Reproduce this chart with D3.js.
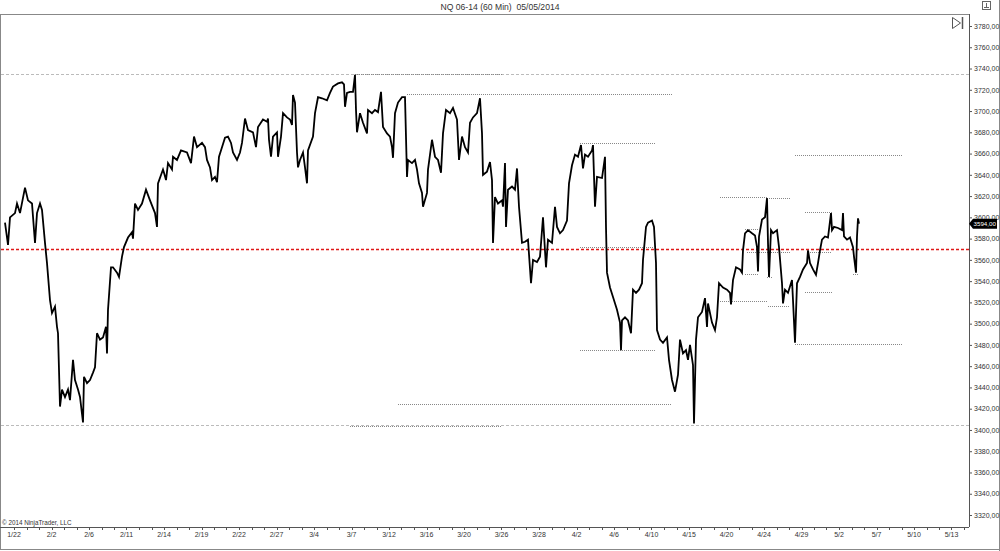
<!DOCTYPE html>
<html><head><meta charset="utf-8">
<script src="https://cdn.jsdelivr.net/npm/d3@7"></script>
<style>
html,body{margin:0;padding:0;background:#fff;}
svg{display:block;font-family:"Liberation Sans",Arial,sans-serif;}
</style></head>
<body>
<svg id="c" width="1000" height="551"></svg>
<script>
const title = "NQ 06-14 (60 Min)  05/05/2014";
const copyright = "© 2014 NinjaTrader, LLC";
const dateLabels = ["1/22","2/2","2/6","2/11","2/14","2/19","2/22","2/27","3/4","3/7","3/12","3/16","3/20","3/26","3/28","4/2","4/6","4/10","4/15","4/20","4/24","4/29","5/2","5/7","5/10","5/13"];
const priceTicks = [3320,3340,3360,3380,3400,3420,3440,3460,3480,3500,3520,3540,3560,3580,3600,3620,3640,3660,3680,3700,3720,3740,3760,3780];
const lastPrice = 3594;
const redLevel = 3570;
const wideLevels = [3735, 3405];
// [bar index, price]
const priceSeries = [
[0,3595],[6,3574],[10,3600],[20,3604],[24,3613],[30,3604],[40,3628],[46,3616],[54,3613],[60,3576],[64,3604],[70,3613],[74,3607],[80,3576],[84,3557],[90,3522],[94,3510],[100,3516],[104,3497],[106,3491],[110,3422],[114,3438],[120,3431],[126,3438],[130,3428],[136,3466],[140,3447],[146,3438],[150,3431],[156,3407],[158,3450],[164,3444],[170,3447],[176,3454],[180,3459],[184,3491],[190,3485],[196,3487],[202,3497],[204,3472],[206,3513],[212,3553],[216,3553],[224,3548],[228,3544],[234,3563],[238,3572],[246,3581],[254,3586],[256,3580],[260,3613],[266,3607],[274,3613],[282,3626],[290,3616],[300,3604],[304,3591],[306,3632],[316,3645],[318,3642],[322,3635],[326,3651],[334,3645],[336,3657],[344,3654],[352,3663],[364,3661],[372,3651],[378,3676],[384,3666],[394,3670],[400,3666],[404,3654],[410,3647],[414,3635],[420,3638],[424,3633],[428,3657],[434,3666],[440,3675],[446,3676],[452,3670],[456,3661],[464,3654],[470,3661],[474,3670],[480,3693],[486,3682],[496,3680],[502,3666],[506,3685],[516,3692],[524,3690],[526,3693],[528,3673],[532,3657],[536,3676],[544,3680],[546,3657],[552,3676],[556,3698],[564,3694],[570,3692],[574,3687],[576,3715],[580,3708],[584,3661],[586,3647],[590,3654],[596,3661],[600,3647],[604,3632],[606,3663],[616,3676],[620,3698],[626,3713],[634,3712],[644,3710],[650,3717],[656,3723],[666,3726],[674,3727],[678,3725],[680,3704],[684,3717],[690,3718],[696,3718],[700,3734],[702,3701],[704,3680],[710,3698],[716,3689],[724,3679],[726,3701],[734,3698],[740,3701],[746,3699],[752,3718],[756,3685],[764,3679],[770,3676],[774,3666],[776,3656],[780,3698],[786,3708],[794,3713],[800,3713],[804,3638],[806,3654],[814,3651],[820,3654],[824,3645],[828,3632],[834,3623],[836,3610],[844,3623],[846,3645],[854,3673],[860,3657],[866,3654],[872,3642],[876,3679],[882,3701],[890,3698],[896,3703],[904,3692],[908,3654],[914,3676],[920,3666],[926,3661],[930,3689],[936,3694],[944,3698],[950,3712],[954,3679],[956,3640],[964,3643],[970,3652],[974,3635],[976,3576],[980,3619],[986,3613],[994,3616],[996,3610],[1000,3651],[1002,3591],[1006,3626],[1014,3629],[1020,3626],[1024,3646],[1028,3610],[1034,3576],[1040,3577],[1046,3579],[1052,3538],[1056,3560],[1064,3558],[1070,3563],[1076,3600],[1082,3553],[1086,3579],[1094,3576],[1100,3610],[1104,3591],[1110,3585],[1116,3588],[1124,3597],[1128,3632],[1134,3649],[1140,3659],[1146,3657],[1152,3668],[1156,3646],[1160,3659],[1166,3657],[1174,3663],[1176,3668],[1180,3610],[1184,3638],[1194,3637],[1200,3657],[1202,3591],[1204,3548],[1210,3534],[1216,3525],[1224,3513],[1230,3501],[1232,3475],[1234,3503],[1240,3506],[1246,3503],[1252,3491],[1256,3532],[1262,3529],[1268,3532],[1274,3538],[1276,3560],[1282,3591],[1286,3595],[1294,3597],[1298,3591],[1302,3557],[1304,3494],[1310,3485],[1316,3482],[1324,3487],[1328,3466],[1334,3447],[1340,3436],[1346,3452],[1350,3485],[1356,3472],[1362,3475],[1366,3466],[1370,3480],[1376,3461],[1378,3406],[1382,3485],[1386,3506],[1394,3511],[1400,3524],[1404,3497],[1406,3519],[1414,3501],[1420,3494],[1424,3506],[1428,3538],[1436,3534],[1444,3532],[1450,3529],[1452,3518],[1456,3541],[1462,3553],[1470,3551],[1474,3548],[1476,3569],[1480,3585],[1486,3588],[1494,3585],[1500,3583],[1504,3572],[1506,3549],[1508,3582],[1514,3598],[1520,3600],[1524,3618],[1526,3576],[1528,3544],[1532,3588],[1536,3585],[1544,3588],[1548,3572],[1554,3538],[1556,3519],[1560,3532],[1566,3529],[1574,3541],[1576,3522],[1580,3482],[1584,3538],[1590,3544],[1596,3551],[1604,3557],[1606,3569],[1610,3557],[1616,3551],[1622,3546],[1626,3557],[1630,3569],[1634,3579],[1640,3582],[1646,3581],[1652,3604],[1654,3588],[1658,3591],[1666,3590],[1674,3588],[1676,3604],[1678,3582],[1684,3579],[1690,3581],[1696,3572],[1698,3563],[1702,3548],[1704,3582],[1706,3599],[1708,3594]
];
const levelStart = [700,804,1150,1150,1150,1580,1430,1524,1600,1480,1484,1606,1480,1524,1696,1430,1526,1600,1580,786,690];
const levelEnd   = [994,1334,1302,1296,1300,1796,1524,1570,1654,1506,1570,1654,1506,1536,1706,1524,1570,1654,1796,1334,994];
const levelPrice = [3735,3716,3670,3572,3475,3659,3619,3618,3605,3589,3567,3567,3547,3544,3547,3521,3517,3530,3481,3424,3404];

const svg = d3.select("#c");
const plotL = 0, plotR = 969, plotT = 14, plotB = 527;
const x = d3.scaleLinear().domain([0, 1928]).range([5, plotR]);
const y = d3.scaleLinear().domain([3320, 3780]).range([515, 26]);

// frame
svg.append("line").attr("x1",0).attr("x2",plotR).attr("y1",plotT+0.5).attr("y2",plotT+0.5).attr("stroke","#888");
svg.append("line").attr("x1",0.5).attr("x2",0.5).attr("y1",plotT).attr("y2",550).attr("stroke","#888");
svg.append("line").attr("x1",0).attr("x2",1000).attr("y1",549.5).attr("y2",549.5).attr("stroke","#888");
svg.append("line").attr("x1",999.5).attr("x2",999.5).attr("y1",0).attr("y2",551).attr("stroke","#888");

// title
svg.append("text").attr("x",500).attr("y",10).attr("text-anchor","middle").attr("font-size","8.6px").attr("fill","#333").attr("xml:space","preserve").text(title);

// wide dashed levels
svg.selectAll(".wide").data(wideLevels).enter().append("line")
  .attr("x1",1).attr("x2",plotR).attr("y1",d=>Math.round(y(d))+0.5).attr("y2",d=>Math.round(y(d))+0.5)
  .attr("stroke","#bbb").attr("stroke-dasharray","3,2");

// short dotted levels
svg.selectAll(".lvl").data(levelPrice).enter().append("line")
  .attr("x1",(d,i)=>x(levelStart[i])).attr("x2",(d,i)=>x(levelEnd[i]))
  .attr("y1",d=>Math.round(y(d))+0.5).attr("y2",d=>Math.round(y(d))+0.5)
  .attr("stroke","#888").attr("stroke-width",1).attr("stroke-dasharray","1,1");

// red line
svg.append("line").attr("x1",1).attr("x2",plotR).attr("y1",Math.round(y(redLevel))+0.5).attr("y2",Math.round(y(redLevel))+0.5)
  .attr("stroke","#e01818").attr("stroke-width",1.3).attr("stroke-dasharray","3,2");

// price line
const line = d3.line().x(d=>x(d[0])).y(d=>y(d[1]));
svg.append("path").datum(priceSeries).attr("d",line).attr("fill","none").attr("stroke","#000").attr("stroke-width",1.8).attr("stroke-linejoin","miter");

// y axis
const yAxis = d3.axisRight(y).tickValues(priceTicks).tickSize(3).tickPadding(2)
  .tickFormat(d=>d3.format(".2f")(d).replace(".",","));
const ya = svg.append("g").attr("transform",`translate(${plotR},0)`).call(yAxis);
ya.select(".domain").remove();
ya.selectAll("line").attr("stroke","#555");
ya.selectAll("text").attr("font-size","7px").attr("fill","#333").attr("font-family","'Liberation Sans',Arial,sans-serif");
svg.append("line").attr("x1",plotR+0.5).attr("x2",plotR+0.5).attr("y1",plotT).attr("y2",plotB).attr("stroke","#555");

// x axis
const majorBars = dateLabels.map((d,i)=>18+75*i);
const minorBars = d3.range(18, 1929, 25);
svg.append("line").attr("x1",0).attr("x2",plotR).attr("y1",plotB+0.5).attr("y2",plotB+0.5).attr("stroke","#555");
svg.selectAll(".mt").data(minorBars).enter().append("line")
  .attr("x1",d=>Math.round(x(d))+0.5).attr("x2",d=>Math.round(x(d))+0.5).attr("y1",plotB).attr("y2",plotB+3).attr("stroke","#555");
svg.selectAll(".xl").data(dateLabels).enter().append("text")
  .attr("x",(d,i)=>x(majorBars[i])).attr("y",537).attr("text-anchor","middle")
  .attr("font-size","7px").attr("fill","#333").text(d=>d);

// copyright
svg.append("text").attr("x",2).attr("y",525).attr("font-size","6.3px").attr("fill","#333").text(copyright);

// last price marker
const ly = y(lastPrice);
svg.append("path").attr("d",`M${plotR},${ly} L${plotR+4},${ly-5} L${plotR+28},${ly-5} L${plotR+28},${ly+5} L${plotR+4},${ly+5} Z`).attr("fill","#000");
svg.append("text").attr("x",plotR+4.5).attr("y",ly+2.3).attr("font-size","6.2px").attr("fill","#fff").text(d3.format(".2f")(lastPrice).replace(".",","));

// icons
svg.append("path").attr("d","M952.5,17.5 L960.5,23 L952.5,28.5 Z").attr("fill","none").attr("stroke","#555");
svg.append("line").attr("x1",962.5).attr("x2",962.5).attr("y1",17).attr("y2",29).attr("stroke","#555").attr("stroke-width",1.5);
svg.append("rect").attr("x",982.5).attr("y",1.5).attr("width",8).attr("height",8).attr("fill","#fff").attr("stroke","#666");
svg.append("line").attr("x1",984).attr("x2",989).attr("y1",7.5).attr("y2",7.5).attr("stroke","#666");
svg.append("line").attr("x1",986.5).attr("x2",986.5).attr("y1",3).attr("y2",7).attr("stroke","#666");
</script>
</body></html>
